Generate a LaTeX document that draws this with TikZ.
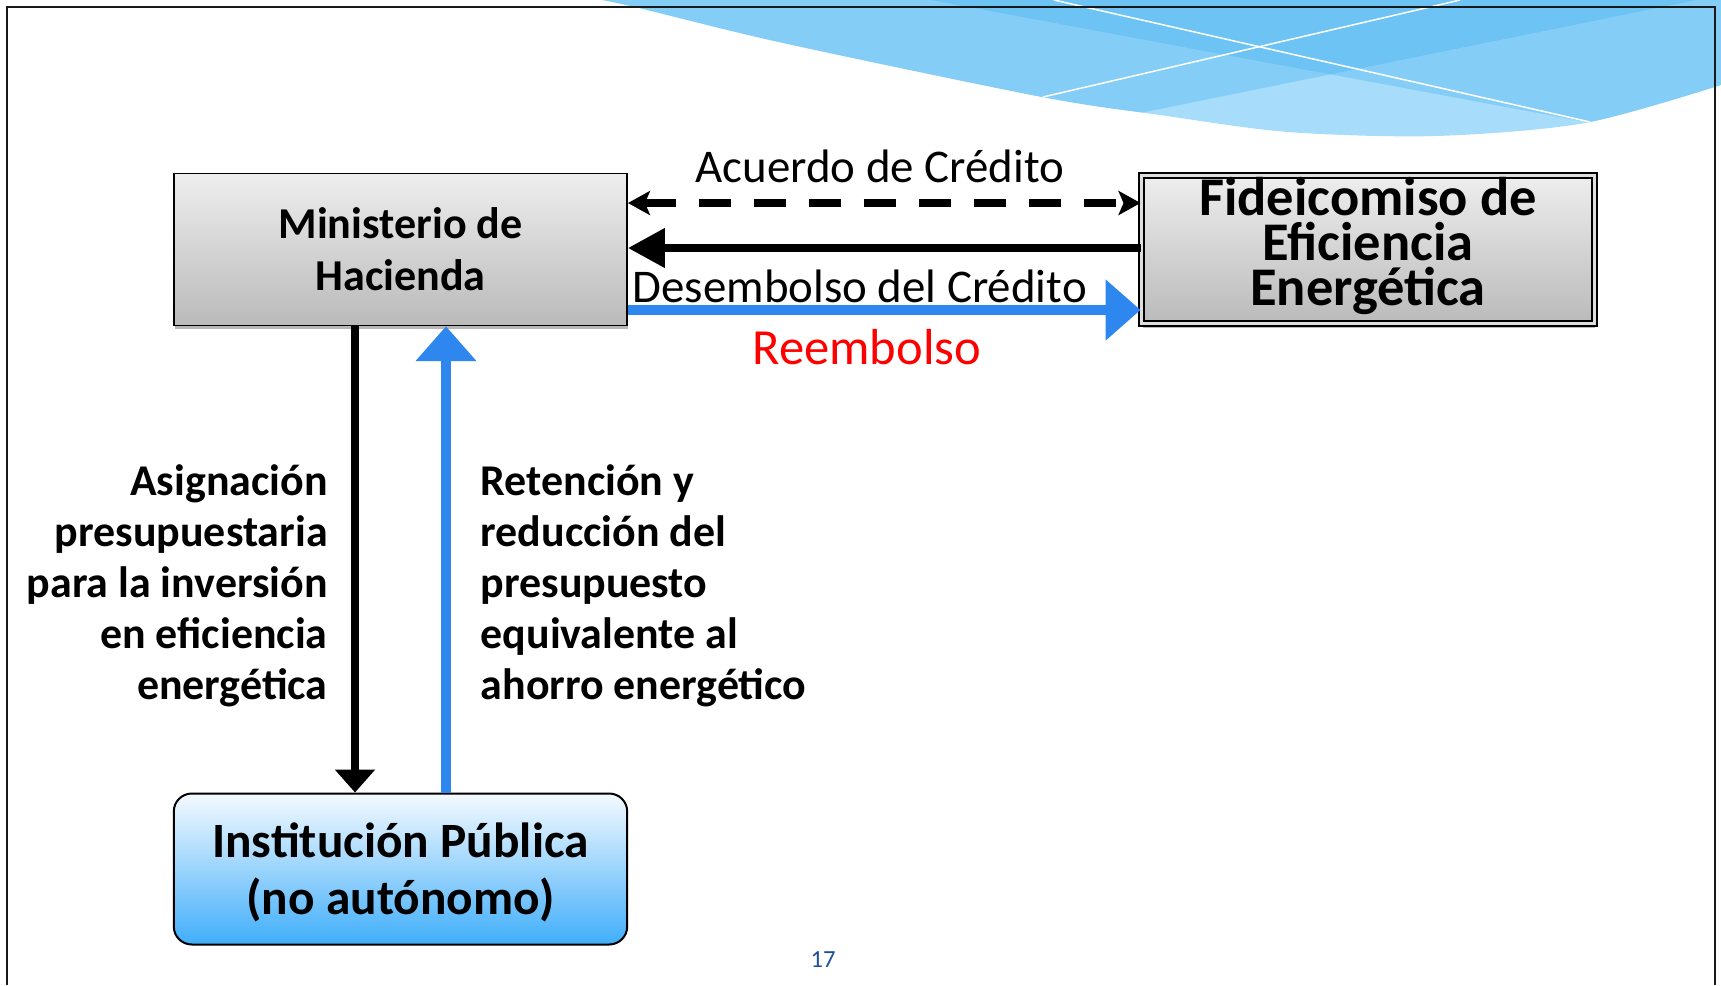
\documentclass[tikz,border=0pt]{standalone}
\usepackage{fontspec}
\setmainfont{Carlito}
\usetikzlibrary{arrows.meta,positioning,shadows}
\definecolor{boxtop}{RGB}{238,238,238}
\definecolor{boxbot}{RGB}{186,186,186}
\definecolor{iptop}{RGB}{245,250,255}
\definecolor{ipbot}{RGB}{64,174,250}
\definecolor{flowblue}{RGB}{46,134,239}
\definecolor{pagenum}{RGB}{31,78,155}
\definecolor{wavelight}{RGB}{168,220,251}
\definecolor{waveband}{RGB}{60,175,240}
\tikzset{
	box/.style={draw=black, line width=0.03cm, top color=boxtop, bottom color=boxbot, minimum width=9.07cm, minimum height=3.04cm, align=center, inner sep=0, drop shadow={shadow xshift=0.02cm, shadow yshift=-0.08cm, fill=black!40, opacity=0.7}},
	fidbox/.style={box, double=boxtop!70!boxbot, double distance=0.06cm, line width=0.04cm, minimum width=9.06cm, minimum height=2.98cm},
	ipbox/.style={draw=black, line width=0.04cm, rounded corners=0.36cm, top color=iptop, bottom color=ipbot, minimum width=9.07cm, minimum height=3.02cm, align=center, inner sep=0},
	lbl/.style={font=\fontsize{26.7}{30}\selectfont, inner sep=0, text=black},
	side/.style={font=\bfseries\fontsize{25}{29}\selectfont, inner sep=0, text=black},
	dashedge/.style={{Stealth[width=0.48cm,length=0.44cm,inset=0.1cm]}-{Stealth[width=0.48cm,length=0.44cm,inset=0.1cm]}, line width=0.17cm, dash pattern=on 0.64cm off 0.46cm, color=black},
	diredge/.style={-{Triangle[width=0.76cm,length=0.74cm]}, line width=0.155cm, color=black},
	downedge/.style={-{Triangle[width=0.78cm,length=0.46cm]}, line width=0.155cm, color=black},
	blueedge/.style={-{Triangle[width=1.18cm,length=0.7cm]}, line width=0.21cm, color=flowblue},
	pagenr/.style={font=\fontsize{14}{16}\selectfont, text=pagenum, inner sep=0}
}
\begin{document}
\begin{tikzpicture}[x=0.02cm, y=-0.02cm]
		\useasboundingbox (0,0) rectangle (1721,985);
		
		\begin{scope}
			\clip plot[smooth] coordinates {(602,0) (639,8) (783,43) (1042,97) (1160,115) (1288,132) (1436,136) (1585,123) (1721,85)} -- (1721,0) -- cycle;
			\fill[wavelight] (590,0) rectangle (1721,150);
			\fill[waveband, opacity=0.33] (590,0) -- (590,150) -- (1140,113) -- (1721,-5) -- cycle;
			\fill[waveband, opacity=0.33] (931,0) -- (1721,147) -- (1721,0) -- cycle;
			\draw[white, line width=0.03cm] (1043,97) -- (1460,0);
			\draw[white, line width=0.03cm] (1054,0) -- (1590,122);
		\end{scope}
		\draw[line width=0.04cm, black!90] (7,985) -- (7,7) -- (1715,7) -- (1715,985);
		
		\node [box, font=\bfseries\fontsize{25.1}{29.6}\selectfont] (mh) at (400.5,249.5) {Ministerio de\\Hacienda};
		\node [fidbox, font=\bfseries\fontsize{31}{25.6}\selectfont, text depth=0.34cm] (fid) at (1368,249.5) {Fideicomiso de\\Eficiencia\\Energética};
		\node [ipbox, font=\bfseries\fontsize{28.1}{32.4}\selectfont, text depth=0cm] (ip) at (400.5,869) {Institución Pública\\(no autónomo)};
		
		\draw ([yshift=0.93cm]mh.east) edge[dashedge] node[lbl, anchor=base, xshift=-0.09cm, yshift=0.42cm] {Acuerdo de Crédito} ([yshift=0.93cm]fid.west);
		\draw ([yshift=0.03cm]fid.west) edge[diredge] node[lbl, anchor=base, xshift=-0.49cm, yshift=-1.08cm] {Desembolso del Crédito} ([yshift=0.03cm]mh.east);
		\draw ([yshift=-1.21cm]mh.east) edge[blueedge] node[lbl, text=red, font=\fontsize{28.8}{30}\selectfont, anchor=base, xshift=-0.35cm, yshift=-1.1cm] {Reembolso} ([yshift=-1.21cm]fid.west);
		\draw ([xshift=-0.91cm]mh.south) edge[downedge] node[side, pos=0.801, anchor=base east, xshift=-0.47cm, align=right] {Asignación\\presupuestaria\\para la inversión\\en eficiencia\\energética} ([xshift=-0.91cm]ip.north);
		\draw ([xshift=0.91cm]ip.north) edge[blueedge] node[side, pos=0.2, anchor=base west, xshift=0.59cm, align=left] {Retención y\\reducción del\\presupuesto\\equivalente al\\ahorro energético} ([xshift=0.91cm]mh.south);
		
		\node [pagenr] (pg) at (823,960) {17};
		
	\end{tikzpicture}
\end{document}
